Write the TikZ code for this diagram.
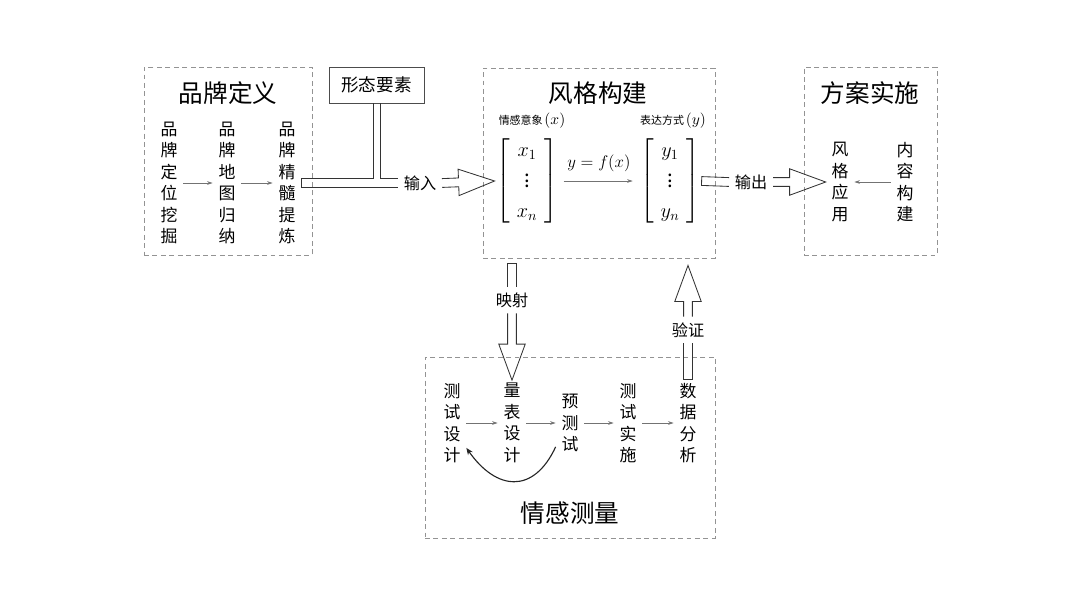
\documentclass[tikz,border=0pt]{standalone}
\usepackage{amsmath}
\usepackage{fontspec}
\setmainfont{Noto Sans CJK SC}
\usetikzlibrary{calc, fit, arrows.meta}

\def\arraystretch{1.25}
% pipe and hollow arrow sizes
\newcommand{\pipew}{0.11cm}
\newcommand{\headw}{0.33cm}
\newcommand{\headl}{0.9cm}

% pipe, closed at #1 and open at #2
\newcommand{\pipeline}[2]{%
  \draw[pipe] ($(#2)!\pipew!-90:(#1)$) -- ($(#1)!\pipew!90:(#2)$)
    -- ($(#1)!\pipew!-90:(#2)$) -- ($(#2)!\pipew!90:(#1)$);}
% hollow arrow from #1 to the tip #2
\newcommand{\hollowarrow}[2]{%
  \draw[pipe] ($(#1)!\pipew!90:(#2)$) -- ($(#2)!\headl!(#1)!\pipew!90:(#2)$)
    -- ($(#2)!\headl!(#1)!\headw!90:(#2)$) -- (#2)
    -- ($(#2)!\headl!(#1)!\headw!-90:(#2)$) -- ($(#2)!\headl!(#1)!\pipew!-90:(#2)$)
    -- ($(#1)!\pipew!-90:(#2)$);}
\newcommand{\vvec}[2]{$\left[\begin{array}{c} #1_1\\ \vdots\\ #1_#2 \end{array}\right]$}

\tikzset{
  group/.style={draw=gray!85, dash pattern=on 3.5pt off 2.5pt, line width=0.6pt, inner sep=0pt},
  boxtitle/.style={font=\fontsize{17.5}{20}\selectfont},
  col/.style={align=center, font=\fontsize{12}{15.3}\selectfont, inner xsep=4pt, inner ysep=2pt},
  lbl/.style={font=\fontsize{11.5}{14}\selectfont, inner sep=4pt},
  small/.style={font=\fontsize{7.8}{9}\selectfont},
  formbox/.style={draw=black!70, line width=0.6pt, minimum width=2.375cm, minimum height=0.9cm,
    font=\fontsize{12.5}{14}\selectfont},
  mat/.style={font=\fontsize{14.5}{17}\selectfont, inner sep=1pt},
  flow/.style={gray!90!black, line width=0.5pt, -{Stealth[length=4pt,width=2.6pt]}},
  pipe/.style={draw=black!80, line width=0.6pt},
  back/.style={black!85, line width=0.8pt, -{Stealth[length=5pt,width=4pt]}},
}

\begin{document}
\begin{tikzpicture}[x=0.025cm, y=-0.025cm]
    \useasboundingbox (0,0) rectangle (1080,608);

    % Dashed groups
    \node[group, fit={(144,67) (312,255)}] (brand) {};
    \node[group, fit={(483,68) (715,258)}] (sty) {};
    \node[group, fit={(804,67) (937,255)}] (plan) {};
    \node[group, fit={(425,357) (715,538)}] (emo) {};

    % Titles
    \node[boxtitle] (brandT) at (228,93) {品牌定义};
    \node[boxtitle] (styT) at (598,93) {风格构建};
    \node[boxtitle] (planT) at (870,93) {方案实施};
    \node[boxtitle] (emoT) at (570,513) {情感测量};

    % Brand definition
    \node[col] (b1) at (169,183) {品\\牌\\定\\位\\挖\\掘};
    \node[col] (b2) at (227,183) {品\\牌\\地\\图\\归\\纳};
    \node[col] (b3) at (287,183) {品\\牌\\精\\髓\\提\\炼};
    \draw[flow] (b1) -- (b2);
    \draw[flow] (b2) -- (b3);

    % Form elements and input
    \node[formbox] (form) at (376.5,85) {形态要素};
    \coordinate (jn) at (form.south |- b3.east);
    \node[lbl] (lin) at (420,183) {输入};
    \draw[pipe] ($(form.south)+(-3.5,0)$) -- ($(jn)+(-3.5,-4.5)$) -- ($(b3.east)+(0,-4.5)$)
        -- ($(b3.east)+(0,4.5)$) -- ($(lin.west)+(0,4.5)$);
    \draw[pipe] ($(form.south)+(3.5,0)$) -- ($(jn)+(3.5,-4.5)$) -- ($(lin.west)+(0,-4.5)$);

    % Style construction
    \node[small] (xlab) at (532,121) {情感意象\,{\fontsize{10.5}{12}\selectfont$(x)$}};
    \node[small] (ylab) at (673,121) {表达方式\,{\fontsize{10.5}{12}\selectfont$(y)$}};
    \node[mat] (xmat) at (527,181) {\vvec{x}{n}};
    \node[mat] (ymat) at (670,181) {\vvec{y}{n}};
    \draw[flow, shorten <=3pt, shorten >=4pt] (xmat) -- (ymat)
        node[midway, above=3pt, text=black, font=\fontsize{12.5}{14}\selectfont] {$y=f(x)$};
    \hollowarrow{lin.east}{xmat.west}

    % Output and scheme
    \node[lbl] (lout) at (751,182) {输出};
    \node[col] (p1) at (840,182) {风\\格\\应\\用};
    \node[col] (p2) at (905,182) {内\\容\\构\\建};
    \draw[flow] (p2) -- (p1);
    \pipeline{ymat.east}{lout.west}
    \hollowarrow{lout.east}{p1.west}

    % Emotion measurement
    \node[col] (e1) at (452,423) {测\\试\\设\\计};
    \node[col] (e2) at (512,423) {量\\表\\设\\计};
    \node[col] (e3) at (570,423) {预\\测\\试};
    \node[col] (e4) at (628,423) {测\\试\\实\\施};
    \node[col] (e5) at (688,423) {数\\据\\分\\析};
    \draw[flow] (e1) -- (e2);
    \draw[flow] (e2) -- (e3);
    \draw[flow] (e3) -- (e4);
    \draw[flow] (e4) -- (e5);
    \draw[back] (e3.-121) to[out=-115, in=-55, looseness=1.5] (e1.-60);

    % Mapping and verification
    \node[lbl] (lmap) at (512,300) {映射};
    \coordinate (maptop) at ($(e2.north |- sty.south)+(0,5)$);
    \pipeline{maptop}{lmap.north}
    \hollowarrow{lmap.south}{e2.north}
    \node[lbl] (lver) at (688,330) {验证};
    \coordinate (vertop) at ($(e5.north |- sty.south)+(0,7)$);
    \hollowarrow{lver.north}{vertop}
    \pipeline{e5.north}{lver.south}
\end{tikzpicture}
\end{document}
